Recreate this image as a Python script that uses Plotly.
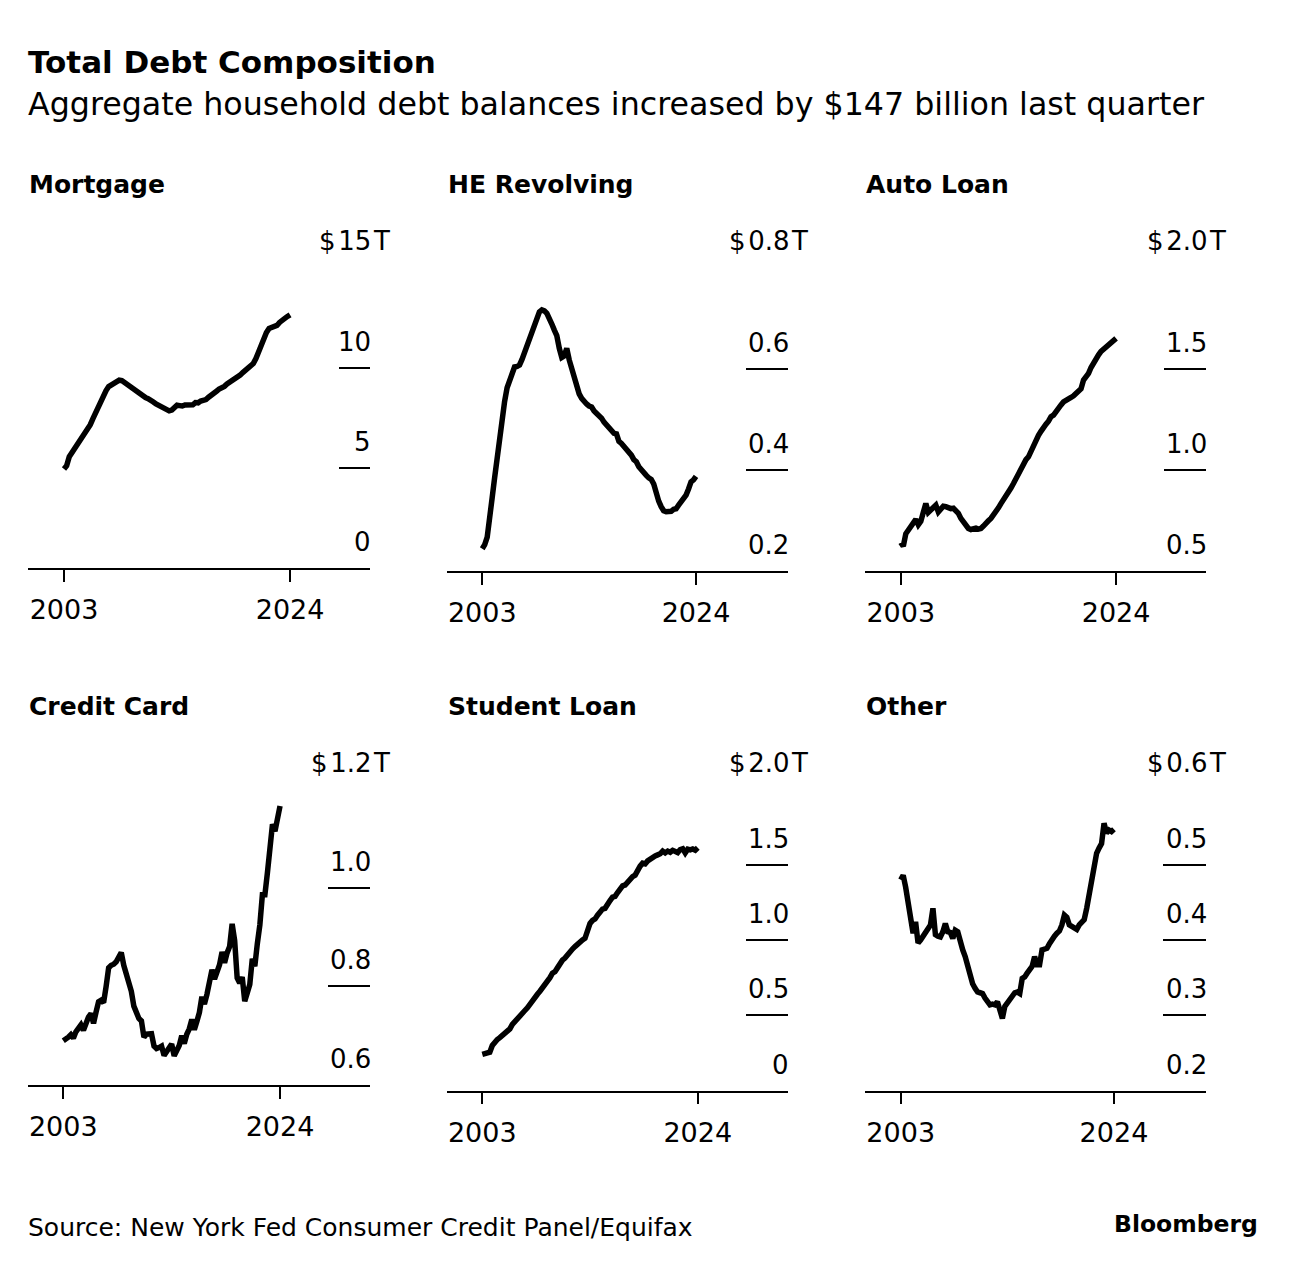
import plotly.graph_objects as go

# ---------------- data ----------------
quarters = [f"{y} Q{q}" for y in range(2003, 2025) for q in range(1, 5)][:87]
x_tick_labels = ["2003", "2024"]

panel_titles = ["Mortgage", "HE Revolving", "Auto Loan", "Credit Card", "Student Loan", "Other"]

mortgage = [4.94, 5.10, 5.55, 5.75, 5.95, 6.15, 6.38, 6.55, 6.72, 6.90,
            7.15, 7.45, 7.75, 8.05, 8.40, 8.65, 8.85, 9.05, 9.15, 9.25,
            9.32, 9.37, 9.35, 9.25, 9.18, 9.10, 9.00, 8.85, 8.80, 8.72,
            8.55, 8.50, 8.45, 8.40, 8.28, 8.18, 8.10, 8.02, 7.98, 7.90,
            7.84, 7.88, 8.00, 8.12, 8.10, 8.08, 8.13, 8.12, 8.15, 8.14,
            8.25, 8.24, 8.33, 8.37, 8.40, 8.52, 8.65, 8.73, 8.82, 8.92,
            8.98, 9.06, 9.18, 9.26, 9.35, 9.48, 9.55, 9.62, 9.75, 9.85,
            9.98, 10.05, 10.20, 10.45, 10.80, 11.15, 11.45, 11.75, 11.95, 12.00,
            12.02, 12.10, 12.25, 12.40, 12.45, 12.55, 12.63]

he_revolving = [0.244, 0.252, 0.267, 0.300, 0.345, 0.385, 0.425, 0.475, 0.510, 0.535,
                0.562, 0.578, 0.592, 0.603, 0.604, 0.607, 0.618, 0.632, 0.645, 0.662,
                0.678, 0.690, 0.703, 0.712, 0.716, 0.714, 0.709, 0.700, 0.688, 0.676,
                0.665, 0.640, 0.622, 0.625, 0.640, 0.617, 0.598, 0.578, 0.562, 0.550,
                0.541, 0.534, 0.530, 0.526, 0.524, 0.516, 0.512, 0.508, 0.502, 0.494,
                0.488, 0.484, 0.477, 0.472, 0.471, 0.456, 0.452, 0.447, 0.440, 0.436,
                0.429, 0.420, 0.416, 0.406, 0.399, 0.395, 0.389, 0.384, 0.381, 0.372,
                0.353, 0.338, 0.327, 0.319, 0.317, 0.317, 0.318, 0.322, 0.323, 0.330,
                0.336, 0.340, 0.350, 0.362, 0.376, 0.380, 0.387]

auto_loan = [0.641, 0.622, 0.684, 0.704, 0.720, 0.745, 0.755, 0.728, 0.745, 0.790,
             0.833, 0.790, 0.800, 0.810, 0.825, 0.792, 0.808, 0.820, 0.818, 0.812,
             0.808, 0.810, 0.800, 0.785, 0.760, 0.742, 0.722, 0.710, 0.705, 0.708,
             0.712, 0.707, 0.710, 0.722, 0.740, 0.748, 0.760, 0.775, 0.792, 0.812,
             0.833, 0.850, 0.874, 0.895, 0.910, 0.932, 0.955, 0.985, 1.010, 1.030,
             1.050, 1.064, 1.090, 1.128, 1.150, 1.170, 1.190, 1.212, 1.225, 1.240,
             1.262, 1.270, 1.290, 1.311, 1.320, 1.335, 1.345, 1.352, 1.357, 1.365,
             1.375, 1.385, 1.400, 1.443, 1.460, 1.476, 1.505, 1.530, 1.550, 1.568,
             1.585, 1.595, 1.605, 1.615, 1.625, 1.636, 1.649]

credit_card = [0.690, 0.692, 0.697, 0.702, 0.695, 0.708, 0.718, 0.722, 0.711, 0.726,
               0.738, 0.745, 0.725, 0.748, 0.769, 0.772, 0.767, 0.800, 0.838, 0.843,
               0.845, 0.850, 0.858, 0.869, 0.843, 0.826, 0.808, 0.790, 0.760, 0.744,
               0.735, 0.730, 0.697, 0.703, 0.704, 0.704, 0.679, 0.674, 0.676, 0.679,
               0.660, 0.668, 0.672, 0.683, 0.659, 0.669, 0.680, 0.700, 0.684, 0.703,
               0.714, 0.733, 0.712, 0.729, 0.747, 0.779, 0.764, 0.784, 0.808, 0.834,
               0.815, 0.829, 0.844, 0.870, 0.848, 0.868, 0.881, 0.927, 0.893, 0.817,
               0.807, 0.819, 0.770, 0.787, 0.804, 0.856, 0.841, 0.887, 0.925, 0.986,
               0.986, 1.031, 1.079, 1.129, 1.115, 1.142, 1.166]

student_loan = [0.241, 0.243, 0.250, 0.255, 0.300, 0.325, 0.340, 0.352, 0.365, 0.385,
                0.400, 0.410, 0.440, 0.460, 0.480, 0.502, 0.525, 0.532, 0.550, 0.569,
                0.595, 0.610, 0.640, 0.660, 0.680, 0.701, 0.722, 0.750, 0.780, 0.790,
                0.815, 0.845, 0.866, 0.880, 0.905, 0.915, 0.940, 0.956, 0.975, 0.990,
                1.000, 1.011, 1.060, 1.110, 1.130, 1.140, 1.165, 1.190, 1.205, 1.210,
                1.230, 1.262, 1.285, 1.290, 1.315, 1.343, 1.360, 1.365, 1.385, 1.405,
                1.420, 1.430, 1.465, 1.490, 1.510, 1.505, 1.525, 1.540, 1.553, 1.558,
                1.565, 1.572, 1.590, 1.578, 1.590, 1.582, 1.595, 1.590, 1.580, 1.600,
                1.605, 1.578, 1.603, 1.598, 1.604, 1.596, 1.612]

other = [0.480, 0.486, 0.470, 0.449, 0.430, 0.409, 0.424, 0.396, 0.400, 0.405,
         0.413, 0.418, 0.420, 0.442, 0.407, 0.405, 0.404, 0.411, 0.422, 0.411,
         0.410, 0.402, 0.413, 0.411, 0.395, 0.387, 0.378, 0.365, 0.356, 0.342,
         0.336, 0.331, 0.330, 0.329, 0.323, 0.318, 0.314, 0.315, 0.314, 0.318,
         0.305, 0.296, 0.312, 0.316, 0.320, 0.325, 0.330, 0.331, 0.329, 0.349,
         0.351, 0.356, 0.360, 0.365, 0.378, 0.367, 0.367, 0.387, 0.388, 0.389,
         0.395, 0.402, 0.405, 0.409, 0.412, 0.420, 0.433, 0.430, 0.420, 0.418,
         0.416, 0.414, 0.420, 0.423, 0.427, 0.442, 0.460, 0.480, 0.506, 0.515,
         0.522, 0.528, 0.555, 0.542, 0.546, 0.544, 0.547]

series = [mortgage, he_revolving, auto_loan, credit_card, student_loan, other]

y_tick_vals = [[0, 5, 10, 15], [0.2, 0.4, 0.6, 0.8], [0.5, 1.0, 1.5, 2.0],
               [0.6, 0.8, 1.0, 1.2], [0, 0.5, 1.0, 1.5, 2.0], [0.2, 0.3, 0.4, 0.5, 0.6]]
y_tick_text = [["0", "5", "10", "15"], ["0.2", "0.4", "0.6", "0.8"], ["0.5", "1.0", "1.5", "2.0"],
               ["0.6", "0.8", "1.0", "1.2"], ["0", "0.5", "1.0", "1.5", "2.0"],
               ["0.2", "0.3", "0.4", "0.5", "0.6"]]

# ---------------- layout (pixel geometry) ----------------
OFF = 8                      # page body margin of the html page
W, H = 1296 - 2 * OFF, 1268 - 2 * OFF


def px(x):
    return (x - OFF) / W


def py(y):
    return 1 - (y - OFF) / H


# (left, right, bottom, top) in screen px, x range, y-tick length
panel_px = [
    (28, 370, 568, 267.3, [-13.7, 116.4], 31),
    (446.7, 787.7, 571, 267.3, [-14.3, 122.9], 42),
    (865, 1205.7, 571, 267.3, [-14.3, 121.8], 42),
    (28, 370, 1085, 789.3, [-14.0, 121.7], 42),
    (446.7, 787.7, 1090.7, 789.3, [-14.2, 121.9], 42),
    (865, 1205.7, 1090.7, 789.3, [-14.4, 123.0], 43),
]
title_y_px = [184, 184, 184, 706, 706, 706]

FONT = "DejaVu Sans"
fig = go.Figure()
annotations = []
layout_axes = {}

for i, (vals, name) in enumerate(zip(series, panel_titles)):
    n = i + 1
    sfx = "" if n == 1 else str(n)
    left, right, bot, top, xr, tlen = panel_px[i]
    fig.add_trace(go.Scatter(
        x=quarters, y=vals, mode="lines",
        line=dict(color="#000000", width=5.5),
        xaxis="x" + sfx, yaxis="y" + sfx,
        hoverinfo="skip", showlegend=False,
    ))
    yv = y_tick_vals[i]
    layout_axes["xaxis" + sfx] = dict(
        domain=[px(left), px(right)], range=xr, type="category",
        anchor="y" + sfx, tickmode="array",
        tickvals=[quarters[0], quarters[-1]], ticktext=x_tick_labels,
        ticks="outside", ticklen=12, tickwidth=1.5, tickcolor="#000",
        showline=True, linecolor="#000", linewidth=1.5,
        showgrid=False, zeroline=False, ticklabelstandoff=5,
        tickfont=dict(family=FONT, size=27, color="#000"), fixedrange=True,
    )
    layout_axes["yaxis" + sfx] = dict(
        domain=[py(bot), py(top)], range=[yv[0], yv[-1]],
        anchor="x" + sfx, side="right", tickmode="array", tickvals=yv,
        ticks="inside", ticklen=tlen, tickwidth=1.5, tickcolor="#000",
        showticklabels=False, showgrid=False, zeroline=False, showline=False,
        fixedrange=True,
    )
    # y labels above each short tick line
    for j, (v, t) in enumerate(zip(yv, y_tick_text[i])):
        last = j == len(yv) - 1
        annotations.append(dict(
            x=1, xref=f"x{sfx} domain", y=v, yref="y" + sfx,
            text=("$\u200a" + t) if last else t,
            xanchor="right", yanchor="middle", xshift=2, yshift=26,
            showarrow=False, borderpad=0,
            font=dict(family=FONT, size=26, color="#000"),
        ))
        if last:
            annotations.append(dict(
                x=1, xref=f"x{sfx} domain", y=v, yref="y" + sfx, text="T",
                xanchor="left", yanchor="middle", xshift=2, yshift=26,
                showarrow=False, borderpad=0,
                font=dict(family=FONT, size=26, color="#000"),
            ))
    annotations.append(dict(
        x=px(left), y=py(title_y_px[i]), xref="paper", yref="paper",
        text=f"<b>{name}</b>", xanchor="left", yanchor="middle", showarrow=False,
        font=dict(family=FONT, size=25, color="#000"), borderpad=0,
    ))

annotations += [
    dict(x=px(27), y=py(62), xref="paper", yref="paper",
         text="<b>Total Debt Composition</b>", xanchor="left", yanchor="middle",
         showarrow=False, borderpad=0, font=dict(family=FONT, size=31, color="#000")),
    dict(x=px(27), y=py(104), xref="paper", yref="paper",
         text="Aggregate household debt balances increased by $147 billion last quarter",
         xanchor="left", yanchor="middle", showarrow=False, borderpad=0,
         font=dict(family=FONT, size=31.7, color="#000")),
    dict(x=px(27), y=py(1227), xref="paper", yref="paper",
         text="Source: New York Fed Consumer Credit Panel/Equifax",
         xanchor="left", yanchor="middle", showarrow=False, borderpad=0,
         font=dict(family=FONT, size=25, color="#000")),
    dict(x=px(1259), y=py(1224), xref="paper", yref="paper",
         text="<b>Bloomberg</b>", xanchor="right", yanchor="middle", showarrow=False,
         borderpad=0, font=dict(family=FONT, size=23.5, color="#000")),
]

fig.update_layout(
    width=W, height=H, margin=dict(l=0, r=0, t=0, b=0, autoexpand=False),
    paper_bgcolor="#ffffff", plot_bgcolor="#ffffff", showlegend=False,
    annotations=annotations, **layout_axes,
)

fig.write_html("out.html", config={"displayModeBar": False})
